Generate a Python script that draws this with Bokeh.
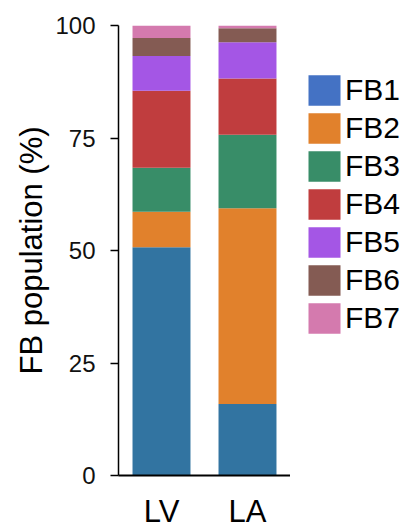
from bokeh.plotting import figure
from bokeh.layouts import row
from bokeh.models import ColumnDataSource, FactorRange, Range1d, Legend, LegendItem
from bokeh.embed import file_html
from bokeh.resources import INLINE

# ---- data ----
groups = ["LV", "LA"]
clusters = ["FB1", "FB2", "FB3", "FB4", "FB5", "FB6", "FB7"]
FB1 = [50.7, 15.9]
FB2 = [7.9, 43.5]
FB3 = [9.8, 16.3]
FB4 = [17.1, 12.5]
FB5 = [7.7, 8.1]
FB6 = [4.0, 3.1]
FB7 = [2.8, 0.6]
y_ticks = [0, 25, 50, 75, 100]

bar_colors = ["#3274A1", "#E1812C", "#388D68", "#C03D3E", "#A456E5", "#845B53", "#D47AAE"]
legend_colors = ["#4472C4", "#E1812C", "#388D68", "#C03D3E", "#A456E5", "#845B53", "#D47AAE"]

source = ColumnDataSource(dict(group=groups, FB1=FB1, FB2=FB2, FB3=FB3, FB4=FB4,
                               FB5=FB5, FB6=FB6, FB7=FB7))

p = figure(x_range=FactorRange(factors=groups, range_padding=0),
           y_range=Range1d(0, 100),
           width=290, height=531,
           output_backend="svg", toolbar_location=None,
           min_border_left=118, min_border_right=0,
           min_border_top=25, min_border_bottom=54)

p.vbar_stack(clusters, x="group", width=0.674, color=bar_colors, line_color=None,
             source=source)

p.outline_line_color = None
p.xgrid.grid_line_color = None
p.ygrid.grid_line_color = None

# y axis
p.yaxis.ticker = y_ticks
p.yaxis.axis_line_width = 1.5
p.yaxis.axis_line_color = "black"
p.yaxis.major_tick_out = 8
p.yaxis.major_tick_in = 0
p.yaxis.major_tick_line_width = 1.5
p.yaxis.minor_tick_line_color = None
p.yaxis.major_label_text_font = "Liberation Sans"
p.yaxis.major_label_text_font_size = "24px"
p.yaxis.major_label_text_color = "#111111"
p.yaxis.major_label_standoff = 15
p.yaxis.axis_label = "FB population (%)"
p.yaxis.axis_label_text_font = "Liberation Sans"
p.yaxis.axis_label_text_font_size = "31px"
p.yaxis.axis_label_text_font_style = "normal"
p.yaxis.axis_label_text_color = "#000000"
p.yaxis.axis_label_standoff = 3

# x axis
p.xaxis.axis_line_width = 2
p.xaxis.axis_line_color = "black"
p.xaxis.major_tick_line_color = None
p.xaxis.minor_tick_line_color = None
p.xaxis.major_tick_out = 0
p.xaxis.major_label_text_font = "Liberation Sans"
p.xaxis.major_label_text_font_size = "31px"
p.xaxis.major_label_text_color = "#000000"
p.xaxis.major_label_standoff = 18

# ---- legend panel (separate figure to the right) ----
q = figure(x_range=Range1d(0, 1), y_range=Range1d(0, 1),
           width=114, height=531, output_backend="svg", toolbar_location=None,
           min_border=0)
q.axis.visible = False
q.grid.grid_line_color = None
q.outline_line_color = None

proxy_src = ColumnDataSource(dict(x=[0.0], zero=[0.0]))
items = []
for c, col in zip(clusters, legend_colors):
    r = q.vbar(x="x", top="zero", bottom="zero", width=0, fill_color=col,
               line_color=None, source=proxy_src)
    items.append(LegendItem(label=c, renderers=[r]))

legend = Legend(items=items, location=(14, 138), orientation="vertical",
                glyph_width=40, glyph_height=38, label_height=38, spacing=0,
                padding=0, margin=0, border_line_color=None,
                background_fill_alpha=0,
                label_text_font="Liberation Sans", label_text_font_size="30px",
                label_text_color="#000000", label_standoff=1)
q.add_layout(legend)

layout = row(p, q)
open("out.html", "w").write(file_html(layout, INLINE))
